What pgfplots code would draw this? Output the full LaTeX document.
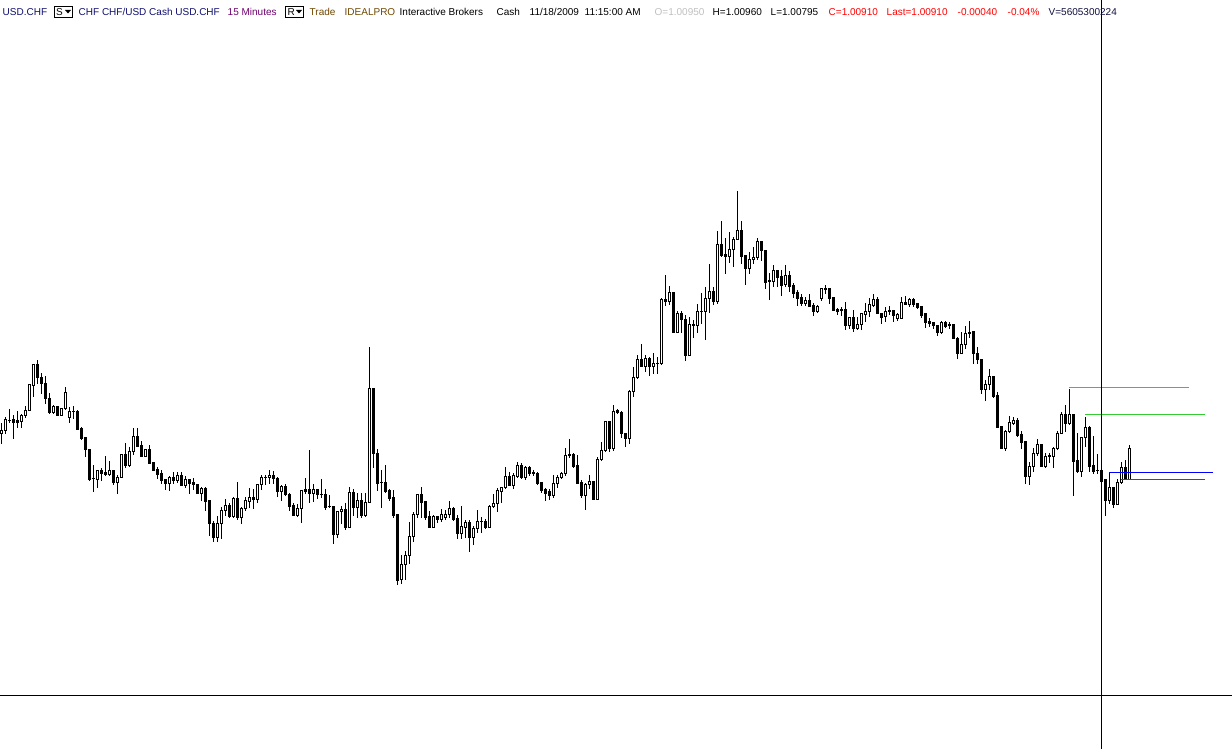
\documentclass[border=0pt]{standalone}
\usepackage{fontspec}
\setmainfont{Liberation Sans}
\usepackage{pgfplots}
\usepackage{pgfplotstable}
\pgfplotsset{compat=1.18}

\definecolor{hdrnavy}{RGB}{16,16,112}
\definecolor{hdrpurple}{RGB}{112,0,112}
\definecolor{hdrbrown}{RGB}{112,72,0}
\definecolor{hdrgray}{RGB}{192,192,192}
\definecolor{hdrred}{RGB}{255,0,0}
\definecolor{hdrdark}{RGB}{16,16,64}
\definecolor{lvlgreen}{RGB}{51,204,51}

% 15 min bars, values in screen rows (top = 0)
\pgfplotstableread{
n o h l c
1 433 423 443 430
2 430 417 433 419
3 420 409 422 420
4 419 415 438 422
5 420 411 427 422
6 421 414 427 415
7 415 406 417 410
8 410 384 410 384
9 385 364 396 364
10 364 360 383 377
11 377 373 393 383
12 383 376 403 398
13 398 393 413 412
14 412 405 413 406
15 406 406 415 415
16 415 408 415 408
17 408 387 409 392
18 417 407 422 411
19 411 406 418 411
20 411 410 429 429
21 428 427 439 438
22 437 437 456 449
23 449 449 480 479
24 478 465 491 478
25 479 470 487 470
26 470 468 480 473
27 472 456 475 474
28 474 461 475 470
29 470 470 484 482
30 482 475 493 477
31 477 454 477 454
32 454 443 467 465
33 465 447 466 451
34 451 428 454 436
35 436 428 446 446
36 445 441 456 456
37 456 449 456 449
38 449 445 463 463
39 462 462 470 470
40 469 467 478 474
41 473 470 483 480
42 479 479 489 483
43 483 476 490 477
44 477 472 483 480
45 480 472 482 475
46 475 472 485 485
47 485 476 487 479
48 479 479 493 483
49 482 478 489 484
50 484 484 493 493
51 493 487 500 488
52 488 487 510 501
53 500 500 535 523
54 523 521 541 537
55 537 516 541 523
56 523 507 538 510
57 510 499 515 505
58 505 503 517 516
59 516 497 517 498
60 498 482 519 517
61 517 507 523 508
62 508 497 510 500
63 501 488 507 497
64 497 489 508 499
65 499 484 502 484
66 484 475 489 477
67 477 475 484 477
68 477 470 483 475
69 475 471 483 478
70 478 477 496 491
71 491 485 500 486
72 486 484 495 494
73 494 493 510 506
74 505 503 515 515
75 515 504 516 508
76 508 490 522 490
77 489 478 493 491
78 489 450 502 493
79 493 484 501 489
80 489 489 498 494
81 494 479 497 494
82 494 489 509 507
83 506 495 507 506
84 506 506 543 534
85 534 511 537 511
86 511 506 523 509
87 509 503 529 527
88 527 487 527 492
89 492 489 515 507
90 507 493 517 500
91 500 493 517 515
92 515 493 516 502
93 502 347 502 388
94 388 388 467 453
95 453 449 490 483
96 482 470 507 482
97 482 465 492 491
98 490 489 500 498
99 497 490 517 515
100 514 514 584 580
101 579 555 583 564
102 564 551 579 555
103 555 522 563 536
104 536 512 541 514
105 514 494 517 494
106 494 487 517 502
107 501 501 519 517
108 516 511 527 527
109 527 515 527 516
110 516 516 522 519
111 519 509 521 514
112 517 510 519 514
113 514 501 517 508
114 508 507 520 519
115 518 515 538 533
116 533 506 538 526
117 527 520 537 522
118 522 520 551 537
119 537 526 544 528
120 528 510 532 521
121 521 517 532 521
122 521 519 528 527
123 527 505 527 506
124 506 494 507 503
125 503 488 511 490
126 491 487 502 487
127 487 467 488 476
128 476 472 485 485
129 485 473 488 475
130 476 462 477 465
131 465 463 478 477
132 477 466 479 467
133 467 466 475 473
134 472 470 475 473
135 473 472 484 483
136 482 482 492 490
137 489 488 500 493
138 491 489 499 495
139 495 475 497 483
140 483 475 487 477
141 477 472 478 473
142 473 448 475 455
143 455 439 457 454
144 454 453 467 466
145 465 455 483 483
146 482 480 497 495
147 495 483 509 484
148 484 475 488 481
149 481 481 499 499
150 499 457 499 459
151 459 442 460 450
152 450 421 451 421
153 421 421 451 448
154 448 405 450 411
155 410 409 413 412
156 412 411 437 433
157 433 433 446 438
158 438 390 443 391
159 391 367 396 377
160 377 355 378 359
161 359 344 366 366
162 366 355 371 358
163 358 357 375 366
164 366 353 373 363
165 363 357 373 363
166 363 298 364 299
167 299 275 305 301
168 301 286 304 292
169 292 292 332 332
170 332 311 332 313
171 313 311 332 319
172 319 315 360 355
173 355 317 355 324
174 325 320 337 324
175 325 304 332 311
176 311 293 323 311
177 311 287 339 298
178 298 264 312 291
179 291 287 304 301
180 301 231 303 244
181 244 221 256 255
182 254 238 273 256
183 256 232 262 249
184 249 237 266 239
185 239 191 239 230
186 230 221 263 256
187 255 255 284 268
188 268 252 273 259
189 259 247 263 257
190 257 238 259 241
191 241 241 260 250
192 250 250 288 282
193 280 273 299 281
194 281 265 286 270
195 270 270 286 277
196 276 270 295 285
197 284 265 286 275
198 275 271 291 286
199 285 283 297 293
200 292 290 305 298
201 297 294 305 303
202 303 297 305 300
203 300 294 306 306
204 305 303 315 311
205 311 305 312 306
206 298 288 300 288
207 289 285 293 288
208 288 288 303 298
209 297 297 310 310
210 309 308 314 311
211 310 307 315 309
212 309 302 329 325
213 325 317 328 317
214 317 310 331 328
215 328 317 329 324
216 324 313 329 313
217 314 303 321 311
218 311 298 316 304
219 305 294 306 299
220 299 297 313 313
221 313 313 323 317
222 316 307 321 311
223 311 306 314 310
224 310 310 321 315
225 318 313 320 314
226 318 297 318 302
227 302 296 304 304
228 304 298 306 299
229 299 298 306 304
230 303 303 308 307
231 306 306 317 315
232 313 313 327 322
233 321 318 326 323
234 322 322 328 325
235 325 325 335 332
236 332 321 333 322
237 322 321 327 326
238 325 322 328 324
239 324 324 338 338
240 338 337 358 353
241 353 332 353 344
242 344 326 348 333
243 333 321 337 332
244 331 331 363 353
245 353 347 363 359
246 359 359 393 389
247 389 380 400 384
248 384 369 389 376
249 376 376 397 396
250 395 392 427 427
251 426 426 448 448
252 448 430 450 431
253 431 416 432 422
254 423 417 424 420
255 420 418 436 435
256 434 431 448 442
257 441 441 483 476
258 476 462 484 466
259 466 448 471 453
260 453 439 455 444
261 444 444 466 466
262 466 453 467 456
263 456 453 462 455
264 456 447 467 448
265 448 431 449 433
266 433 412 433 414
267 414 405 431 423
268 423 389 424 414
269 414 414 495 461
270 460 433 472 471
271 471 437 476 437
272 437 417 446 427
273 427 426 471 466
274 465 436 473 471
275 470 454 473 470
276 470 467 513 481
277 479 479 515 500
278 500 473 503 487
279 487 487 507 504
280 504 479 504 482
281 482 462 483 467
282 467 460 479 479
283 479 445 479 448
}\candles

\begin{document}
\begin{tikzpicture}
\useasboundingbox (0,0) rectangle (1232pt,749pt);
\fill[white] (0,0) rectangle (1232pt,749pt);
\begin{axis}[
    at={(0,0)}, anchor=south west,
    width=1232pt, height=749pt, scale only axis,
    xmin=0, xmax=1232, ymin=0, ymax=749,
    y dir=reverse,
    hide axis, clip=false,
]
% wicks
\addplot[draw=none, no marks,
    error bars/.cd, y dir=plus, y explicit, error mark=none,
    error bar style={draw=black, line width=1pt}]
    table[x expr=4*\thisrow{n}-2.5, y=h,
          y error plus expr=\thisrow{l}-\thisrow{h}+1] {\candles};
% bodies
\addplot[draw=none, no marks,
    error bars/.cd, y dir=plus, y explicit, error mark=none,
    error bar style={draw=black, line width=3pt}]
    table[x expr=4*\thisrow{n}-2.5, y expr={min(\thisrow{o},\thisrow{c})},
          y error plus expr={abs(\thisrow{o}-\thisrow{c})+1}] {\candles};
% hollow (up) bodies
\addplot[draw=none, no marks,
    restrict expr to domain={\thisrow{o}-\thisrow{c}}{2:1000},
    error bars/.cd, y dir=plus, y explicit, error mark=none,
    error bar style={draw=white, line width=1pt}]
    table[x expr=4*\thisrow{n}-2.5, y expr=\thisrow{c}+1,
          y error plus expr=\thisrow{o}-\thisrow{c}-1] {\candles};

% price levels
\addplot[lvlgreen, line width=1pt] coordinates {(1069,387.5) (1189,387.5)};
\addplot[lvlgreen, line width=1pt] coordinates {(1085,414.5) (1205,414.5)};
\addplot[blue, line width=1pt] coordinates {(1109,472.5) (1213,472.5)};
\addplot[hdrred, line width=1pt] coordinates {(1121,479.5) (1205,479.5)};

% crosshair
\draw[black, line width=1pt] (axis cs:0,695.5) -- (axis cs:1232,695.5);
\draw[black, line width=1pt] (axis cs:1101.5,0) -- (axis cs:1101.5,749);

% header
\begin{scope}[every node/.style={anchor=base west, inner sep=0pt, font=\fontsize{10}{12}\selectfont}]
\node[text=hdrnavy] at (axis cs:2.5,15.3) {USD.CHF};
\draw[black, line width=1pt] (axis cs:54.5,6.5) rectangle (axis cs:72.5,17.5);
\node[text=black] at (axis cs:56,15.3) {S};
\fill[black] (axis cs:65,10) -- (axis cs:71,10) -- (axis cs:68,13.5) -- cycle;
\node[text=hdrnavy] at (axis cs:78.5,15.3) {CHF CHF/USD Cash USD.CHF};
\node[text=hdrpurple] at (axis cs:227.5,15.3) {15 Minutes};
\draw[black, line width=1pt] (axis cs:285.5,6.5) rectangle (axis cs:303.5,17.5);
\node[text=black] at (axis cs:287.5,15.3) {R};
\fill[black] (axis cs:296,10) -- (axis cs:302,10) -- (axis cs:299,13.5) -- cycle;
\node[text=hdrbrown] at (axis cs:309.5,15.3) {Trade};
\node[text=hdrbrown] at (axis cs:344.5,15.3) {IDEALPRO};
\node[text=black] at (axis cs:399.5,15.3) {Interactive Brokers};
\node[text=black] at (axis cs:496.5,15.3) {Cash};
\node[text=black] at (axis cs:529.5,15.3) {11/18/2009};
\node[text=black] at (axis cs:584.5,15.3) {11:15:00 AM};
\node[text=hdrgray] at (axis cs:654.5,15.3) {O=1.00950};
\node[text=black] at (axis cs:712.5,15.3) {H=1.00960};
\node[text=black] at (axis cs:770.5,15.3) {L=1.00795};
\node[text=hdrred] at (axis cs:828.5,15.3) {C=1.00910};
\node[text=hdrred] at (axis cs:886.5,15.3) {Last=1.00910};
\node[text=hdrred] at (axis cs:957.5,15.3) {-0.00040};
\node[text=hdrred] at (axis cs:1007.5,15.3) {-0.04\%};
\node[text=hdrdark] at (axis cs:1048.5,15.3) {V=5605300224};
\end{scope}
\end{axis}
\end{tikzpicture}
\end{document}
